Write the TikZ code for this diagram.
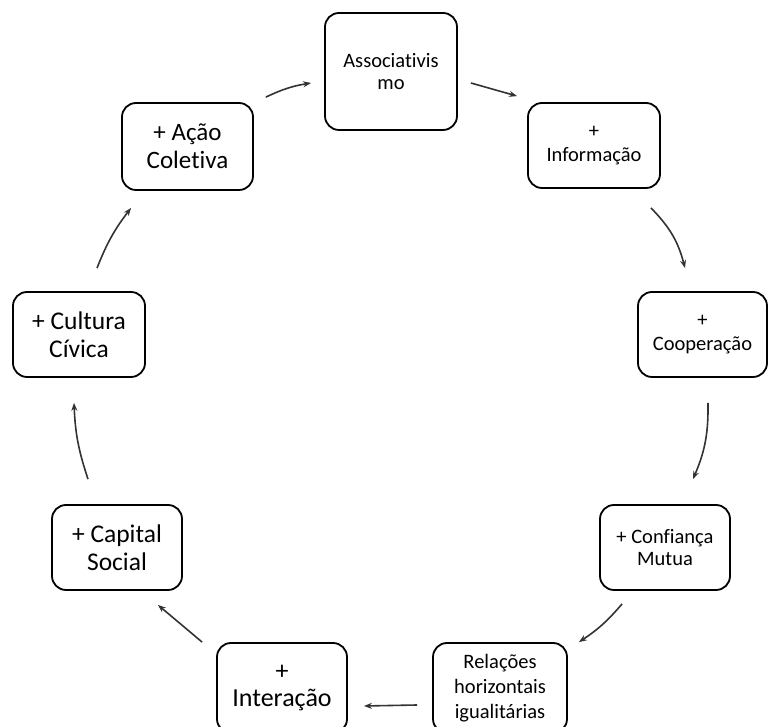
\documentclass[tikz,border=0pt]{standalone}
\usepackage{fontspec}
\setmainfont[Ligatures=NoCommon]{Carlito}
\usetikzlibrary{arrows.meta,calc}

\begin{document}
\begin{tikzpicture}[x=1pt, y=1pt,
    stage/.style={draw, line width=1.8pt, rounded corners=14pt, align=center, inner sep=2pt, minimum width=131pt, minimum height=85pt},
    small/.style={font=\fontsize{20.5}{24}\selectfont},
    large/.style={font=\fontsize{25.5}{27.5}\selectfont},
    flow/.style={draw=black!80, line width=1.6pt, -{Stealth[length=8pt,width=6pt]}}]
    \useasboundingbox (0,0) rectangle (768,727);

    \node[stage, minimum width=132pt, minimum height=117pt, font=\fontsize{20.5}{21.5}\selectfont] (assoc) at (391,655.5) {Associativis\\mo};
    \node[stage, small, minimum width=132pt] (info) at (594,581.5) {+\\Informação};
    \node[stage, small, minimum width=129pt] (coop) at (702.5,392.5) {+\\Cooperação};
    \node[stage, minimum width=130pt, font=\fontsize{20.5}{21.5}\selectfont] (conf) at (665,179.5) {+ Confiança\\Mutua};
    \node[stage, font=\fontsize{20.5}{25}\selectfont, minimum width=134pt, minimum height=90pt] (rel) at (500,39) {Relações\\horizontais\\igualitárias};
    \node[stage, minimum width=130pt, minimum height=90pt, font=\fontsize{26}{27}\selectfont] (inter) at (282,39) {+\\Interação};
    \node[stage, minimum width=130pt, font=\fontsize{25.5}{28}\selectfont] (cap) at (117,179.5) {+ Capital\\Social};
    \node[stage, large, minimum width=132pt] (cult) at (79,392.5) {+ Cultura\\Cívica};
    \node[stage, minimum width=131pt, minimum height=87pt, font=\fontsize{25}{28}\selectfont] (acao) at (187.5,580.5) {+ Ação\\Coletiva};

    \draw[flow] ($(acao.north east)+(12,5)$) to[bend left=8] ($(assoc.west)+(-13,-11.5)$);
    \draw[flow] ($(assoc.east)+(13,-11.5)$) -- ($(info.north west)+(-10,6)$);
    \draw[flow] ($(info.south east)+(-10,-19)$) to[bend left=15] ($(coop.north)+(-17.5,23)$);
    \draw[flow] ($(coop.south)+(5.5,-25)$) to[bend left=12] ($(conf.north)+(28,25)$);
    \draw[flow] ($(conf.south west)+(23,-13)$) to[bend left=8] ($(rel.north east)+(11,0)$);
    \draw[flow] ($(rel.west)+(-15,-17)$) -- ($(inter.east)+(16,-18)$);
    \draw[flow] ($(inter.north west)+(-14,0)$) -- ($(cap.south east)+(-25,-14)$);
    \draw[flow] ($(cap.north)+(-29,25)$) to[bend left=8] ($(cult.south)+(-5,-25)$);
    \draw[flow] ($(cult.north)+(18,23)$) to[bend left=8] ($(acao.south west)+(10,-17)$);
\end{tikzpicture}
\end{document}
